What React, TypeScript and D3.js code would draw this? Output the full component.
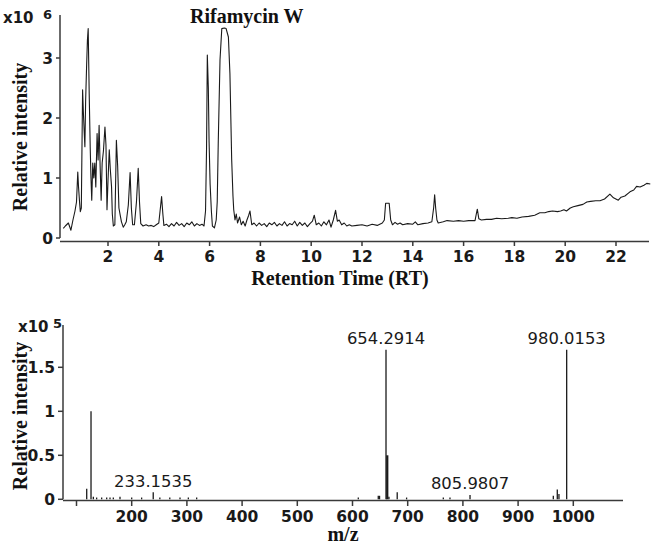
import React from "react";
import * as d3 from "d3";

// ---- Top: total ion chromatogram (x10^6) ----
const rtTime: number[] = [0.24,0.32,0.44,0.54,0.62,0.7,0.76,0.81,0.84,0.88,0.91,0.95,1.0,1.03,1.06,1.09,1.12,1.16,1.19,1.22,1.26,1.3,1.33,1.36,1.4,1.44,1.48,1.52,1.57,1.61,1.65,1.69,1.73,1.77,1.82,1.88,1.92,1.96,2.0,2.05,2.09,2.14,2.17,2.21,2.27,2.33,2.38,2.43,2.48,2.53,2.6,2.66,2.72,2.8,2.87,2.92,2.97,3.04,3.12,3.19,3.24,3.29,3.38,3.5,3.6,3.7,3.8,3.9,4.0,4.05,4.11,4.16,4.2,4.3,4.4,4.5,4.6,4.7,4.8,4.9,5.0,5.1,5.2,5.3,5.4,5.5,5.6,5.7,5.78,5.84,5.88,5.91,5.95,5.98,6.02,6.07,6.11,6.19,6.26,6.3,6.34,6.41,6.48,6.58,6.65,6.74,6.8,6.87,6.92,6.95,7.0,7.05,7.1,7.18,7.25,7.32,7.4,7.47,7.54,7.59,7.66,7.75,7.85,7.95,8.05,8.15,8.25,8.35,8.45,8.55,8.65,8.75,8.85,8.95,9.05,9.15,9.25,9.35,9.45,9.55,9.65,9.75,9.85,9.95,10.05,10.12,10.2,10.3,10.4,10.5,10.6,10.7,10.78,10.87,10.96,11.03,11.1,11.2,11.3,11.4,11.5,11.6,11.8,12.0,12.2,12.4,12.6,12.8,12.88,12.93,13.07,13.13,13.2,13.3,13.4,13.5,13.6,13.8,14.0,14.1,14.2,14.4,14.6,14.75,14.82,14.86,14.9,14.95,15.0,15.2,15.35,15.6,15.8,16.0,16.2,16.45,16.5,16.54,16.6,16.7,16.9,17.1,17.3,17.5,17.76,17.9,18.1,18.3,18.56,18.8,19.0,19.2,19.35,19.5,19.7,19.82,19.95,20.05,20.2,20.32,20.5,20.7,20.85,21.0,21.2,21.37,21.55,21.76,21.9,22.09,22.2,22.35,22.55,22.7,22.81,22.95,23.1,23.21,23.35];
const rtIntensity: number[] = [0.16,0.2,0.25,0.13,0.3,0.45,0.6,1.1,0.85,0.6,0.44,0.5,2.47,2.1,1.8,1.52,2.3,2.9,3.3,3.49,2.4,1.5,1.0,0.63,1.25,1.0,1.25,0.85,1.74,1.3,1.88,1.2,0.63,1.25,1.45,1.85,1.55,0.47,0.95,1.47,1.15,0.85,0.4,0.2,0.22,1.63,1.2,0.5,0.38,0.27,0.18,0.22,0.27,0.55,1.09,0.5,0.22,0.22,0.6,1.16,0.6,0.24,0.2,0.22,0.2,0.21,0.19,0.22,0.25,0.45,0.69,0.4,0.21,0.23,0.19,0.24,0.2,0.26,0.21,0.24,0.19,0.25,0.22,0.27,0.2,0.24,0.21,0.23,0.2,0.45,1.5,3.05,2.5,1.6,0.9,0.45,0.2,0.17,0.3,0.6,1.58,2.97,3.49,3.5,3.49,3.35,2.74,1.3,0.7,0.47,0.3,0.4,0.25,0.35,0.22,0.28,0.2,0.3,0.38,0.45,0.22,0.25,0.2,0.25,0.21,0.24,0.19,0.25,0.22,0.26,0.2,0.24,0.21,0.27,0.2,0.24,0.22,0.28,0.2,0.26,0.21,0.25,0.19,0.24,0.28,0.38,0.22,0.25,0.2,0.27,0.22,0.3,0.18,0.3,0.46,0.28,0.3,0.22,0.25,0.2,0.22,0.2,0.21,0.22,0.2,0.23,0.21,0.25,0.3,0.58,0.58,0.3,0.22,0.26,0.23,0.25,0.22,0.24,0.23,0.27,0.22,0.24,0.25,0.27,0.5,0.72,0.5,0.3,0.25,0.27,0.29,0.28,0.29,0.28,0.29,0.29,0.4,0.48,0.32,0.3,0.31,0.31,0.33,0.32,0.33,0.34,0.33,0.35,0.36,0.38,0.42,0.42,0.44,0.45,0.44,0.45,0.47,0.45,0.5,0.52,0.54,0.56,0.6,0.61,0.62,0.62,0.65,0.73,0.67,0.63,0.68,0.7,0.77,0.8,0.86,0.85,0.88,0.91,0.9];
const rtTicks: number[] = [2,4,6,8,10,12,14,16,18,20,22];
const rtYTicks: number[] = [0,1,2,3];
const rtAnnotation = { text: "Rifamycin W" };

// ---- Bottom: mass spectrum (x10^5) ----
const mzValues: number[] = [118.5,126.3,130.5,136.5,145.6,154.7,160.7,166.7,178.8,200,218,239,251,269,287.5,302.6,317.7,610.5,646.7,649,660.7,663,666,681,698,764.5,776.6,812.9,963.8,971,974,988];
const mzIntensity: number[] = [0.12,1.0,0.03,0.02,0.02,0.02,0.02,0.02,0.03,0.02,0.02,0.08,0.02,0.02,0.02,0.02,0.02,0.02,0.04,0.04,1.70,0.5,0.03,0.08,0.02,0.02,0.02,0.05,0.04,0.11,0.06,1.70];
const mzLabels: string[] = ["233.1535","654.2914","805.9807","980.0153"];
const mzLabelAt: number[] = [239,660.7,812.9,988];
const mzTicks: number[] = [100,200,300,400,500,600,700,800,900,1000];
const mzYTicks: number[] = [0,0.5,1,1.5];

const SERIF = "'Liberation Serif', 'Times New Roman', serif";
const SANS = "'DejaVu Sans', Verdana, sans-serif";
const AXIS = "#3a3a3a";

export default function App() {
  // top scales
  const xT = d3.scaleLinear().domain([0, 23]).range([57.2, 57.2 + 23 * 25.4]);
  const yT = d3.scaleLinear().domain([0, 3.7]).range([238, 238 - 3.7 * 60]);
  const rtPts: [number, number][] = rtTime.map((t, i) => [t, rtIntensity[i]]);
  const line = d3.line<[number, number]>().x((d) => xT(d[0])).y((d) => yT(d[1]));

  // bottom scales
  const xB = d3.scaleLinear().domain([0, 1000]).range([21.3, 573.3]);
  const yB = d3.scaleLinear().domain([0, 2]).range([499.3, 499.3 - 2 * 88]);

  const tickFont = { fontFamily: SANS, fontWeight: 700, fontSize: 15.5, fill: "#1a1a1a" } as const;
  const titleFont = { fontFamily: SERIF, fontWeight: 700, fontSize: 20, fill: "#111" } as const;

  return (
    <svg width={662} height={548} style={{ position: "absolute", left: 0, top: 0, background: "#fff" }}>
      <rect width={662} height={548} fill="#fff" />
      {/* ===== TOP ===== */}
      <g>
        <line x1={60} x2={60} y1={15} y2={yT(0)} stroke={AXIS} strokeWidth={1.5} />
        <line x1={60} x2={649} y1={241.5} y2={241.5} stroke={AXIS} strokeWidth={1.5} />
        {rtYTicks.map((v) => (
          <g key={"ty" + v}>
            <line x1={56} x2={60} y1={yT(v)} y2={yT(v)} stroke={AXIS} strokeWidth={1.5} />
            <text x={53} y={yT(v)} dy="0.36em" textAnchor="end" {...tickFont}>{v}</text>
          </g>
        ))}
        {rtTicks.map((v) => (
          <g key={"tx" + v}>
            <line x1={xT(v)} x2={xT(v)} y1={241.5} y2={246} stroke={AXIS} strokeWidth={1.5} />
            <text x={xT(v)} y={262} textAnchor="middle" {...tickFont}>{v}</text>
          </g>
        ))}
        <path d={line(rtPts) || ""} fill="none" stroke="#1a1a1a" strokeWidth={1.1} strokeLinejoin="round" />
        <text x={3} y={23} fontFamily={SANS} fontWeight={700} fontSize={15} fill="#1a1a1a">x10</text>
        <text x={43} y={19} fontFamily={SANS} fontWeight={700} fontSize={13} fill="#1a1a1a">6</text>
        <text x={190} y={23} {...titleFont}>{rtAnnotation.text}</text>
        <text transform="translate(27,137) rotate(-90)" textAnchor="middle" {...titleFont}>Relative intensity</text>
        <text x={340} y={284.5} textAnchor="middle" {...titleFont}>Retention Time (RT)</text>
      </g>

      {/* ===== BOTTOM ===== */}
      <g>
        <line x1={63} x2={63} y1={325} y2={yB(0)} stroke={AXIS} strokeWidth={1.5} />
        <line x1={63} x2={623} y1={500.5} y2={500.5} stroke={AXIS} strokeWidth={1.5} />
        {mzYTicks.map((v) => (
          <g key={"by" + v}>
            <line x1={58} x2={63} y1={yB(v)} y2={yB(v)} stroke={AXIS} strokeWidth={1.5} />
            <text x={55} y={yB(v)} dy="0.36em" textAnchor="end" {...tickFont}>{v}</text>
          </g>
        ))}
        {mzTicks.map((v) => (
          <g key={"bx" + v}>
            <line x1={xB(v)} x2={xB(v)} y1={500.5} y2={506} stroke={AXIS} strokeWidth={1.5} />
            {v >= 200 && <text x={xB(v)} y={521.5} textAnchor="middle" {...tickFont}>{v}</text>}
          </g>
        ))}
        {mzValues.map((m, i) => (
          <line key={"pk" + i} x1={xB(m)} x2={xB(m)} y1={yB(0)} y2={yB(mzIntensity[i])}
            stroke="#1a1a1a" strokeWidth={mzIntensity[i] > 0.3 && mzIntensity[i] < 0.9 ? 2.2 : 1.3} />
        ))}
        {mzLabels.map((s, i) => {
          const idx = mzValues.indexOf(mzLabelAt[i]);
          return (
            <text key={"lb" + i} x={xB(mzLabelAt[i])} y={yB(mzIntensity[idx]) - 5.5} textAnchor="middle"
              fontFamily={SANS} fontSize={16.4} fill="#1a1a1a">{s}</text>
          );
        })}
        <text x={18} y={331.5} fontFamily={SANS} fontWeight={700} fontSize={15} fill="#1a1a1a">x10</text>
        <text x={53} y={328} fontFamily={SANS} fontWeight={700} fontSize={13} fill="#1a1a1a">5</text>
        <text transform="translate(27,416) rotate(-90)" textAnchor="middle" {...titleFont}>Relative intensity</text>
        <text x={343} y={541} textAnchor="middle" {...titleFont}>m/z</text>
      </g>
    </svg>
  );
}
